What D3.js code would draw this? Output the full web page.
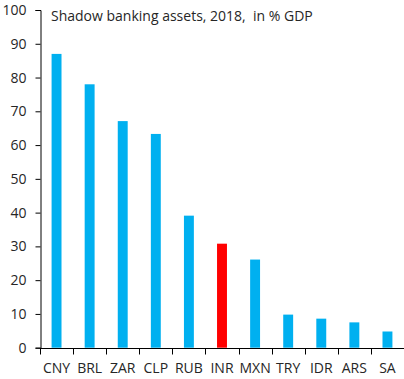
<!DOCTYPE html>
<html>
<head>
<meta charset="utf-8">
<script src="https://cdn.jsdelivr.net/npm/d3@7"></script>
<style>
  body { margin: 0; background: #fff; }
  text { font-family: "Open Sans", "Noto Sans", sans-serif; fill: #262626; }
</style>
</head>
<body>
<svg id="grafico" width="404" height="379"></svg>
<script>
const monedas = ['CNY', 'BRL', 'ZAR', 'CLP', 'RUB', 'INR', 'MXN', 'TRY', 'IDR', 'ARS', 'SA'];
const activos = [87, 78, 67.1, 63.3, 39.1, 30.8, 26.1, 9.8, 8.6, 7.5, 4.8];
const ticks_y = [0, 10, 20, 30, 40, 50, 60, 70, 80, 90, 100];
const destacada = 'INR';
const titulo = 'Shadow banking assets, 2018,  in % GDP';

const margen = {top: 10, right: 0, bottom: 31, left: 40};
const ancho = 404, alto = 379;

const svg = d3.select('#grafico');

const escalaX = d3.scaleBand()
    .domain(monedas)
    .range([margen.left, ancho - margen.right])
    .paddingInner(0.7)
    .paddingOuter(0.35);

const escalaY = d3.scaleLinear()
    .domain([0, 100])
    .range([alto - margen.bottom - 0.3, margen.top]);

// barras
svg.append('g')
    .selectAll('rect')
    .data(monedas)
    .join('rect')
    .attr('x', d => escalaX(d))
    .attr('width', escalaX.bandwidth())
    .attr('y', (d, i) => escalaY(activos[i]))
    .attr('height', (d, i) => escalaY(0) - escalaY(activos[i]))
    .attr('fill', d => d == destacada ? '#FF0000' : '#00B0F0');

// eje Y
const ejeY = d3.axisLeft(escalaY)
    .tickValues(ticks_y)
    .tickSize(5)
    .tickPadding(9);

svg.append('g')
    .attr('transform', `translate(${margen.left + 0.5},0)`)
    .call(ejeY)
    .call(g => g.select('.domain').attr('stroke', '#000'))
    .call(g => g.selectAll('.tick line').attr('stroke', '#000'))
    .call(g => g.selectAll('text').attr('font-size', 14).attr('font-family', null));

// eje X: marcas entre categorias
const lineaBase = Math.round(escalaY(0)) + 0.5;
svg.append('line')
    .attr('x1', margen.left).attr('x2', ancho)
    .attr('y1', lineaBase).attr('y2', lineaBase)
    .attr('stroke', '#000');

const paso = escalaX.step();
svg.append('g')
    .selectAll('line')
    .data(monedas)
    .join('line')
    .attr('x1', d => Math.round(escalaX(d) - paso * 0.35) + 0.5)
    .attr('x2', d => Math.round(escalaX(d) - paso * 0.35) + 0.5)
    .attr('y1', lineaBase)
    .attr('y2', lineaBase + 6)
    .attr('stroke', '#000');

svg.append('g')
    .selectAll('text')
    .data(monedas)
    .join('text')
    .attr('x', d => escalaX(d) + escalaX.bandwidth() / 2)
    .attr('y', 373)
    .attr('text-anchor', 'middle')
    .attr('font-size', 14)
    .text(d => d);

svg.append('text')
    .attr('x', 51)
    .attr('y', 21)
    .attr('font-size', 14)
    .style('white-space', 'pre')
    .text(titulo);
</script>
</body>
</html>
